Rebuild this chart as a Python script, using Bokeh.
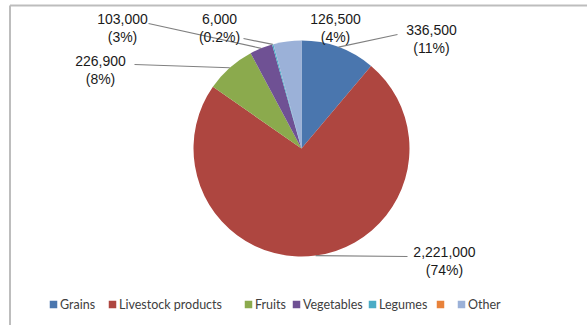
import math
from bokeh.plotting import figure
from bokeh.models import Range1d
from bokeh.core.properties import value
from bokeh.embed import file_html
from bokeh.resources import INLINE

# ---- data ----
categories = ["Grains", "Livestock products", "Fruits", "Vegetables", "Legumes", "", "Other"]
values = [336500, 2221000, 226900, 103000, 6000, 0, 126500]
value_labels = ["336,500", "2,221,000", "226,900", "103,000", "6,000", "", "126,500"]
pct_labels = ["(11%)", "(74%)", "(8%)", "(3%)", "(0.2%)", "", "(4%)"]
colors = ["#4A76AE", "#AE4640", "#8BAA4D", "#6F5194", "#4BACC6", "#E8823A", "#9BB1D8"]

W, H = 587, 325
cx, cy, R = 301, 148, 108  # screen coords of pie centre


def sy(y):
    return H - y


p = figure(width=W, height=H, x_range=Range1d(0, W), y_range=Range1d(0, H),
           output_backend="svg", toolbar_location=None, min_border=0,
           outline_line_color=None, background_fill_color="white",
           border_fill_color="white")
p.axis.visible = False
p.grid.visible = False

# frame lines
p.segment(x0=[9.5, 9.5], y0=[sy(5), sy(5)], x1=[9.5, W], y1=[sy(H), sy(5)],
          line_color="#BDBDBD", line_width=2)

# ---- pie ----
total = sum(values)
starts, ends, mids = [], [], []
cum = 0.0
for v in values:
    f0 = cum / total
    cum += v
    f1 = cum / total
    starts.append(math.pi / 2 - f1 * 2 * math.pi)
    ends.append(math.pi / 2 - f0 * 2 * math.pi)
    mids.append((f0 + f1) / 2)

idx = [i for i, v in enumerate(values) if v > 0]
p.wedge(x=[cx] * len(idx), y=[sy(cy)] * len(idx), radius=R,
        start_angle=[starts[i] for i in idx], end_angle=[ends[i] for i in idx],
        fill_color=[colors[i] for i in idx], line_color=None)

# ---- labels (layout positions in screen coords: centre x, first line y, leader start) ----
label_pos = {
    0: (431, 29, (397, 34)),
    1: (444, 251, (407, 256)),
    2: (100, 60, (134, 64)),
    3: (122, 18, (148, 23)),
    4: (219, 18, (243, 38)),
    6: (335, 18, None),
}
lx0, ly0, lx1, ly1 = [], [], [], []
tx, ty, tt = [], [], []
for i, (x, y, lead) in label_pos.items():
    tx += [x, x]
    ty += [sy(y), sy(y + 18)]
    tt += [value_labels[i], pct_labels[i]]
    if lead is not None:
        a = mids[i] * 2 * math.pi
        ax = cx + R * math.sin(a)
        ay = cy - R * math.cos(a)
        lx0.append(lead[0]); ly0.append(sy(lead[1]))
        lx1.append(ax); ly1.append(sy(ay))

p.segment(x0=lx0, y0=ly0, x1=lx1, y1=ly1, line_color="#808080", line_width=1.2)
p.text(x=tx, y=ty, text=tt, text_align="center", text_baseline="middle",
       text_font=value("Liberation Sans"), text_font_size="14px", text_color="#1a1a1a")

# ---- legend ----
leg_x = [53, 112, 248, 296, 372, 440, 461]
leg_y = 304
p.scatter(x=leg_x, y=[sy(leg_y)] * len(leg_x), marker="square", size=7.5,
          fill_color=colors, line_color=None)
p.text(x=[x + 6.5 for x in leg_x], y=[sy(leg_y)] * len(leg_x), text=categories,
       text_align="left", text_baseline="middle", text_font=value("Lato"),
       text_font_size="12.5px", text_color="#404040")

open("out.html", "w").write(file_html(p, INLINE))
